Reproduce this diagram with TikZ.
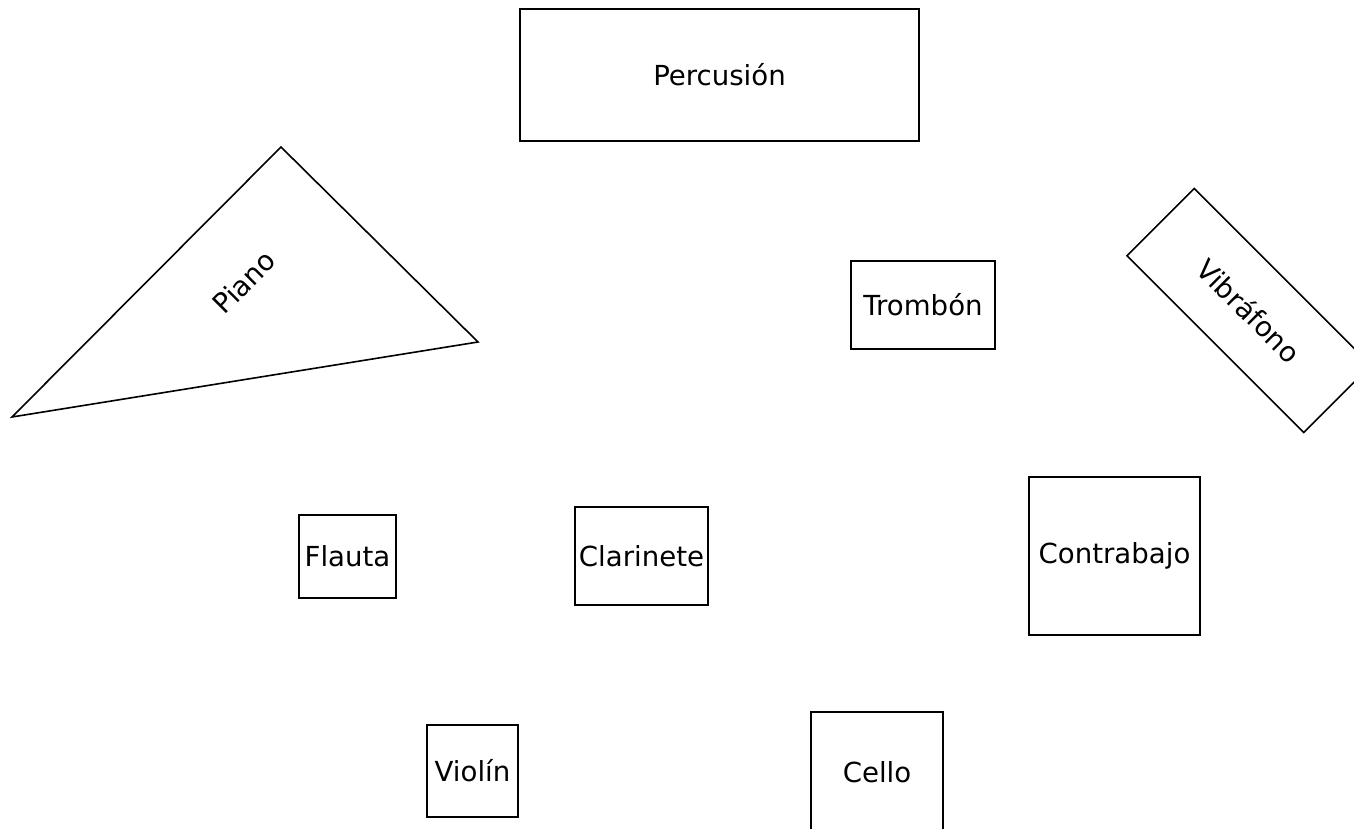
\documentclass[tikz,border=0pt]{standalone}
\usepackage{fontspec}
\setmainfont{DejaVu Sans}
\begin{document}
\begin{tikzpicture}[x=1pt,y=-1pt,
  box/.style={draw=black,line width=1.6pt,inner sep=0pt,font=\fontsize{27.6}{32}\selectfont},
  lbl/.style={inner sep=0pt,font=\fontsize{27.6}{32}\selectfont}]
\useasboundingbox (0,0) rectangle (1354,829);
\clip (0,0) rectangle (1354,829);
\fill[white] (0,0) rectangle (1354,829);
\node[box,minimum width=399pt,minimum height=132pt] (perc) at (719.5,75) {Percusión};
\draw[line width=1.6pt,line join=miter] (281,147) coordinate (pa) -- (478,342) coordinate (pb) -- (12,417) coordinate (pc) -- cycle;
\node[lbl,rotate=45] (piano) at (244,282) {Piano};
\node[box,minimum width=144pt,minimum height=88pt] (tromb) at (923,305) {Trombón};
\node[box,rotate=-45,minimum width=250pt,minimum height=95pt] (vib) at (1249,310.5) {Vibráfono};
\node[box,minimum width=97pt,minimum height=83pt] (flauta) at (347.5,556.5) {Flauta};
\node[box,minimum width=133pt,minimum height=98pt] (clar) at (641.5,556) {Clarinete};
\node[box,minimum width=171pt,minimum height=158pt] (contra) at (1114.5,556) {Contrabajo};
\node[box,minimum width=91pt,minimum height=92pt] (violin) at (472.5,771) {Violín};
\node[box,minimum width=132pt,minimum height=128pt] (cello) at (877,776) {};
\node[lbl] (cellot) at (877,772) {Cello};
\end{tikzpicture}
\end{document}
